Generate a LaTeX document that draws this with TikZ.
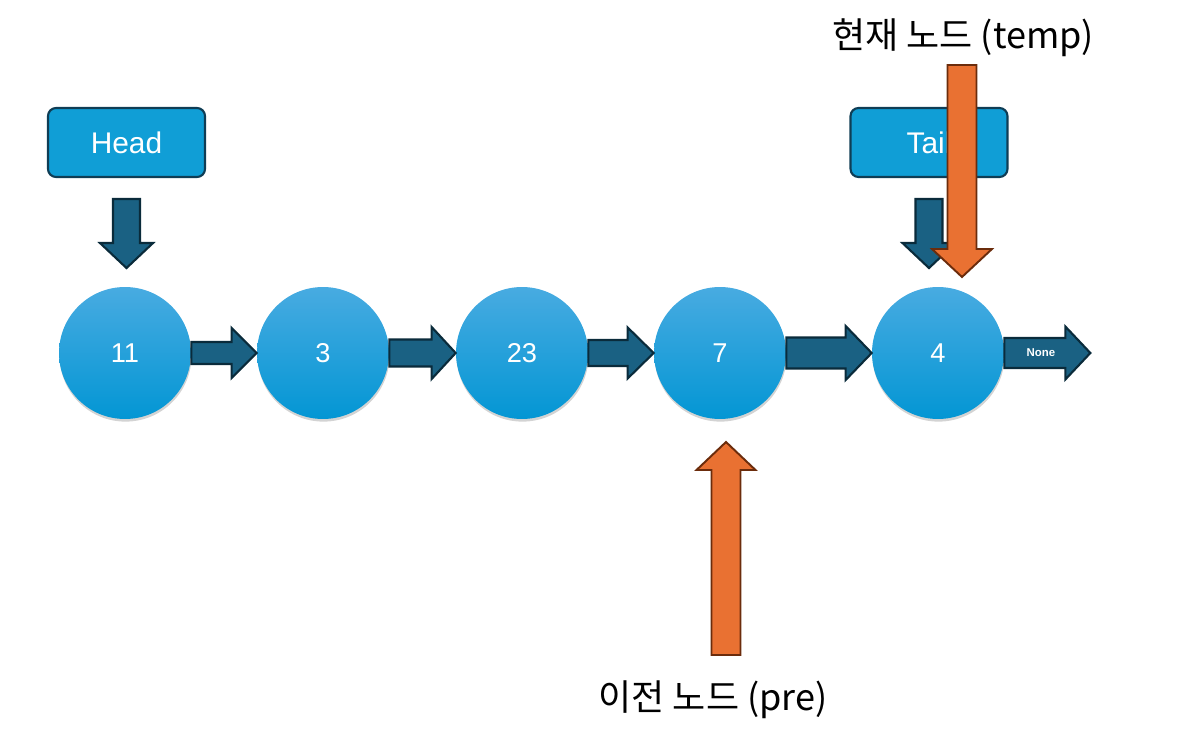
\documentclass[tikz,border=0pt]{standalone}
\usepackage{fontspec}
\setmainfont{Liberation Sans}
\newfontfamily\krfont{Noto Sans CJK KR}
\definecolor{nodetop}{HTML}{48ABE1}
\definecolor{nodebot}{HTML}{0396D4}
\definecolor{boxblue}{HTML}{109ED6}
\definecolor{boxline}{HTML}{0F3D55}
\definecolor{arrowblue}{HTML}{1A6183}
\definecolor{arrowline}{HTML}{0A2B3B}
\definecolor{myorange}{HTML}{E97132}
\definecolor{orangeline}{HTML}{6B2C0C}
\usepackage{tikz}
\usetikzlibrary{
  positioning, calc, shadows
}
\tikzset{
	listnode/.style={
			circle,
			draw=none,
			top color=nodetop,
			bottom color=nodebot,
			minimum size=2.64cm,
			inner sep=0pt,
			text=white,
			font=\fontsize{15.5}{18}\selectfont,
			drop shadow={shadow xshift=0.3pt, shadow yshift=-1.5pt, opacity=0.35}
		},
	labelbox/.style={
			rectangle,
			draw=boxline,
			fill=boxblue,
			line width=1.2pt,
			rounded corners=0.16cm,
			minimum width=3.14cm,
			minimum height=1.38cm,
			text=white,
			font=\fontsize{17}{20}\selectfont
		},
	linkarrow/.style={
			draw=arrowline,
			fill=arrowblue,
			line width=1.2pt,
			line join=miter
		},
	ptrarrow/.style={
			draw=orangeline,
			fill=myorange,
			line width=1.1pt,
			line join=miter
		},
	ptrlabel/.style={
			font=\krfont\fontsize{20.5}{25}\selectfont,
			inner sep=0pt
		}
}
% #1 style, #2 from, #3 tip, #4 half shaft, #5 half head, #6 head length
\newcommand{\blockarrow}[6]{%
  \path ($(#3)!#6!(#2)$) coordinate (ab);
  \draw[#1] ($(#2)!#4!90:(#3)$) -- ($(ab)!#4!90:(#3)$) -- ($(ab)!#5!90:(#3)$)
    -- (#3) -- ($(ab)!#5!-90:(#3)$) -- ($(ab)!#4!-90:(#3)$) -- ($(#2)!#4!-90:(#3)$) -- cycle;
}

\begin{document}
\begin{tikzpicture}[x=0.02cm, y=-0.02cm]
\useasboundingbox (0,0) rectangle (1184,746);

\node[listnode] (lA) at (125,353) {11};
\node[listnode] (lB) at (323,353) {3};
\node[listnode] (lC) at (522,353) {23};
\node[listnode] (lD) at (720,353) {7};
\node[listnode] (lE) at (938,353) {4};

\node[labelbox] (head) at (126.5,142.5) {Head};
\node[labelbox] (tail) at (929,142.5) {Tail};

\coordinate (hs) at ([yshift=-0.42cm]head.south);
\coordinate (ht) at ($(hs)+(0,69)$);
\coordinate (ts) at ([yshift=-0.42cm]tail.south);
\coordinate (tt) at ($(ts)+(0,69)$);
\coordinate (noneEnd) at ($(lE.east)+(86,0)$);

\blockarrow{linkarrow}{lA.east}{lB.west}{0.22cm}{0.5cm}{0.5cm}
\blockarrow{linkarrow}{lB.east}{lC.west}{0.27cm}{0.52cm}{0.48cm}
\blockarrow{linkarrow}{lC.east}{lD.west}{0.26cm}{0.51cm}{0.52cm}
\blockarrow{linkarrow}{lD.east}{lE.west}{0.31cm}{0.54cm}{0.52cm}
\blockarrow{linkarrow}{lE.east}{noneEnd}{0.3cm}{0.53cm}{0.5cm}
\node[text=white, font=\bfseries\fontsize{6.5}{8}\selectfont] (none) at (1041,353) {None};

\blockarrow{linkarrow}{hs}{ht}{0.27cm}{0.53cm}{0.5cm}
\blockarrow{linkarrow}{ts}{tt}{0.27cm}{0.53cm}{0.5cm}

% current / previous pointers
\node[ptrlabel] (templbl) at (963,38) {현재 노드 (temp)};
\node[ptrlabel] (prelbl) at (713,700) {이전 노드 (pre)};
\coordinate (cs) at (962,65);
\coordinate (ct) at (962,277);
\coordinate (ps) at (726,655);
\coordinate (pt) at (726,442);
\blockarrow{ptrarrow}{cs}{ct}{0.29cm}{0.6cm}{0.56cm}
\blockarrow{ptrarrow}{ps}{pt}{0.29cm}{0.59cm}{0.56cm}
\end{tikzpicture}
\end{document}
